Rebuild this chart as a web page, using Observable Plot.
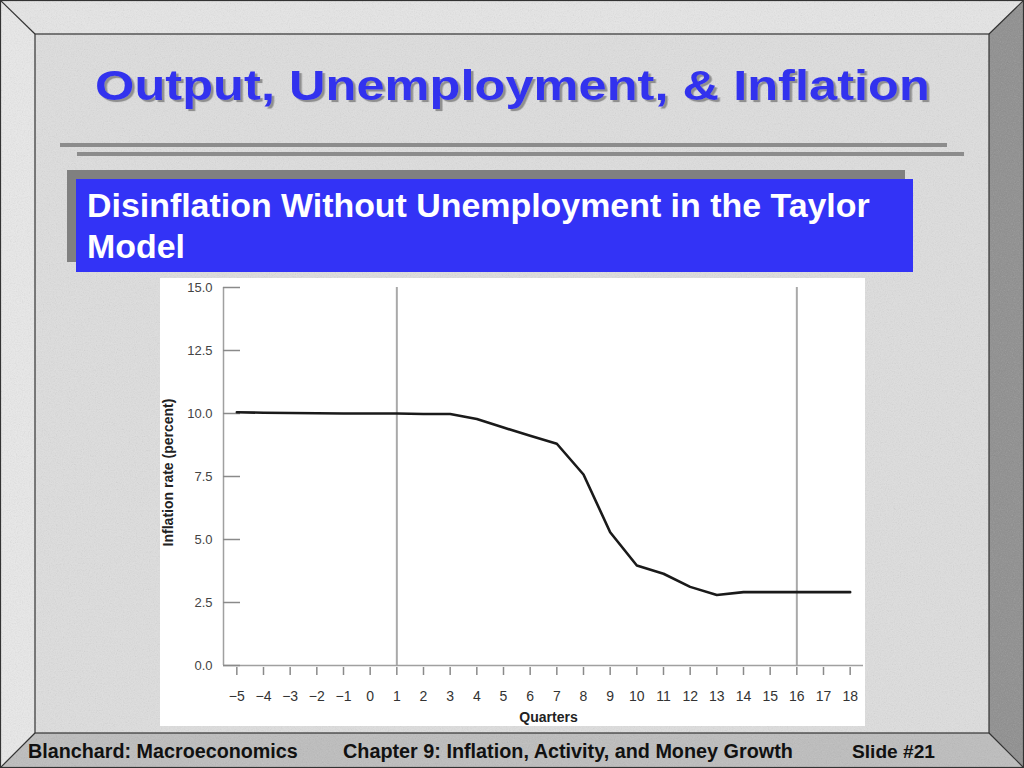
<!DOCTYPE html>
<html>
<head>
<meta charset="utf-8">
<script src="https://cdn.jsdelivr.net/npm/d3@7"></script>
<script src="https://cdn.jsdelivr.net/npm/@observablehq/plot@0.6"></script>
<style>
  html, body { margin: 0; padding: 0; background: #d9d9d9; }
  #slide { position: relative; width: 1024px; height: 768px; overflow: hidden; font-family: "Liberation Sans", Arial, Helvetica, sans-serif; }
  #bg { position: absolute; left: 0; top: 0; }
  #chart { position: absolute; left: 160px; top: 278px; }
</style>
</head>
<body>
<div id="slide">
  <svg id="bg" width="1024" height="768" xmlns="http://www.w3.org/2000/svg">
    <defs>
      <filter id="noise" x="0" y="0" width="100%" height="100%">
        <feTurbulence type="fractalNoise" baseFrequency="0.85" numOctaves="3" seed="4" stitchTiles="stitch"/>
        <feColorMatrix type="saturate" values="0"/>
        <feComponentTransfer>
          <feFuncA type="table" tableValues="0 0.45"/>
        </feComponentTransfer>
      </filter>
      <filter id="shadow" x="-5%" y="-20%" width="110%" height="150%">
        <feDropShadow dx="2.5" dy="2.5" stdDeviation="0.6" flood-color="#8f8f8f" flood-opacity="1"/>
      </filter>
    </defs>
    <rect width="1024" height="768" fill="#dedede"/>
    <!-- bevels -->
    <polygon points="0,0 1024,0 989,34 35,34" fill="#e6e6e6"/>
    <polygon points="0,0 35,34 35,733 0,768" fill="#e9e9e9"/>
    <polygon points="1024,0 1024,768 989,733 989,34" fill="#8e8e8e"/>
    <polygon points="0,768 35,733 989,733 1024,768" fill="#bdbdbd"/>
    <rect width="1024" height="768" filter="url(#noise)" opacity="0.5"/>
    <g stroke="#333" stroke-width="1.2" fill="none">
      <rect x="0.5" y="0.5" width="1023" height="767"/>
      <rect x="35" y="34" width="954" height="699"/>
      <line x1="0" y1="0" x2="35" y2="34"/>
      <line x1="1024" y1="0" x2="989" y2="34"/>
      <line x1="0" y1="768" x2="35" y2="733"/>
      <line x1="1024" y1="768" x2="989" y2="733"/>
    </g>
    <!-- double rule under title -->
    <rect x="60" y="143" width="887" height="4" fill="#8c8c8c"/>
    <rect x="77" y="152" width="887" height="4" fill="#8c8c8c"/>
    <!-- subtitle box -->
    <rect x="67" y="170" width="838" height="92" fill="#808080"/>
    <rect x="76" y="179" width="837" height="93" fill="#3333f6"/>
    <g id="texts"></g>
  </svg>
  <div id="chart"></div>
</div>
<script>
// ---------- text content ----------
const titleText = "Output, Unemployment, & Inflation";
const subtitleLines = ["Disinflation Without Unemployment in the Taylor", "Model"];
const footerTexts = ["Blanchard: Macroeconomics", "Chapter 9: Inflation, Activity, and Money Growth", "Slide #21"];
const xAxisLabel = "Quarters";
const yAxisLabel = "Inflation rate (percent)";

// ---------- chart data ----------
const quarters = [-5, -4, -3, -2, -1, 0, 1, 2, 3, 4, 5, 6, 7, 8, 9, 10, 11, 12, 13, 14, 15, 16, 17, 18];
const inflation = [10.05, 10.03, 10.02, 10.01, 10.0, 10.0, 10.0, 9.98, 9.98, 9.78, 9.44, 9.12, 8.8, 7.58, 5.29, 3.97, 3.64, 3.12, 2.8, 2.91, 2.91, 2.91, 2.91, 2.91];
const markedQuarters = [1, 16];
const yTicks = [0, 2.5, 5, 7.5, 10, 12.5, 15];
const xTicks = quarters;
const xDomain = [-5.5, 18.5];
const yDomain = [0, 15];

const data = quarters.map((q, i) => ({quarter: q, rate: inflation[i]}));

// ---------- slide texts ----------
const NS = "http://www.w3.org/2000/svg";
const g = document.getElementById("texts");
function addText(str, x, y, size, fill, anchor, targetWidth, scaleY, filter) {
  const t = document.createElementNS(NS, "text");
  t.textContent = str;
  t.setAttribute("x", x);
  t.setAttribute("y", y);
  t.setAttribute("font-size", size);
  t.setAttribute("font-weight", "bold");
  t.setAttribute("font-family", "Liberation Sans, Arial, Helvetica, sans-serif");
  t.setAttribute("fill", fill);
  t.setAttribute("text-anchor", anchor);
  if (filter) t.setAttribute("filter", filter);
  g.appendChild(t);
  if (targetWidth) {
    const w = t.getComputedTextLength();
    if (w > 0) t.setAttribute("font-size", size * targetWidth / w);
  }
  if (scaleY) {
    t.setAttribute("transform", `translate(0,${y}) scale(1,${scaleY}) translate(0,${-y})`);
  }
  return t;
}
// title with drop shadow (the original glyphs are wider than tall)
addText(titleText, 512.5, 100, 42, "#3333ee", "middle", 835, 0.85, "url(#shadow)");
// subtitle
const s1 = addText(subtitleLines[0], 87, 217, 28, "#ffffff", "start", 783);
const subSize = +s1.getAttribute("font-size");
addText(subtitleLines[1], 87, 258, subSize, "#ffffff", "start", null);
// footer
addText(footerTexts[0], 28, 758, 19, "#111", "start", 270);
addText(footerTexts[1], 343, 758, 19, "#111", "start", 450);
addText(footerTexts[2], 852, 758, 19, "#111", "start", 83);

// ---------- chart ----------
const font = "Liberation Sans, Arial, Helvetica, sans-serif";
const chart = Plot.plot({
  width: 705,
  height: 448,
  marginLeft: 63,
  marginRight: 2,
  marginTop: 9,
  marginBottom: 61,
  x: {domain: xDomain},
  y: {domain: yDomain},
  style: {background: "#ffffff", fontFamily: font, color: "#333"},
  marks: [
    Plot.ruleX(markedQuarters, {stroke: "#a9a9a9", strokeWidth: 2}),
    Plot.ruleY([yDomain[0]], {stroke: "#a0a0a0", strokeWidth: 1.5}),
    Plot.ruleX([xDomain[0]], {stroke: "#a0a0a0", strokeWidth: 1.5}),
    Plot.axisY(yTicks, {tickSize: -17, fill: "none", stroke: "#8a8a8a", strokeWidth: 1.5, label: null}),
    Plot.axisY(yTicks, {tickSize: 0, tickPadding: 11, tickFormat: d3.format(".1f"), fill: "#444", fontSize: 13, label: null}),
    Plot.axisX(xTicks, {tickSize: 8, dy: 2, fill: "none", stroke: "#8a8a8a", strokeWidth: 1.5, label: null}),
    Plot.axisX(xTicks, {tickSize: 0, tickPadding: 26, fill: "#333", fontSize: 14, label: null}),
    Plot.text([xAxisLabel], {text: d => d, frameAnchor: "bottom", lineAnchor: "bottom", textAnchor: "middle", dy: 56, dx: 5, fontSize: 14, fontWeight: "bold", fill: "#222"}),
    Plot.text([yAxisLabel], {text: d => d, frameAnchor: "left", rotate: -90, textAnchor: "middle", lineAnchor: "middle", dx: -55, dy: -4, fontSize: 14, fontWeight: "bold", fill: "#222"}),
    Plot.line(data, {x: "quarter", y: "rate", stroke: "#1a1a1a", strokeWidth: 2.6, strokeLinejoin: "round"})
  ]
});
document.getElementById("chart").appendChild(chart);
</script>
</body>
</html>
